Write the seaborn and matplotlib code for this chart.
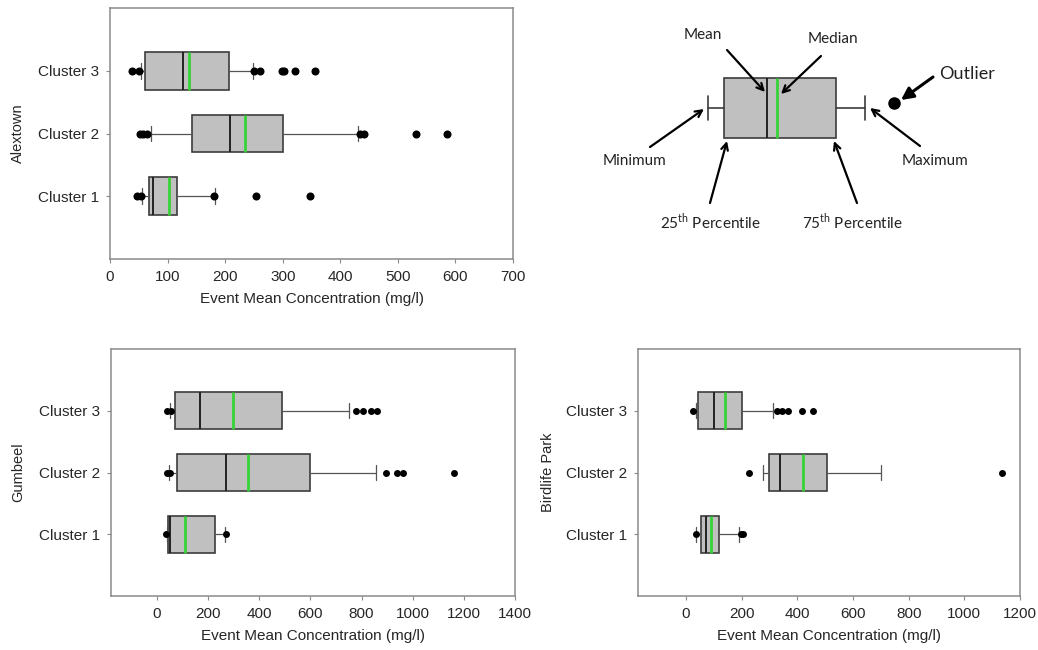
import numpy as np
import pandas as pd
import matplotlib
matplotlib.use("Agg")
import matplotlib.pyplot as plt
import seaborn as sns

# ---------------- data (mg/l) ----------------
clusters = ["Cluster 3", "Cluster 2", "Cluster 1"]
xlabel = "Event Mean Concentration (mg/l)"

# Alextown
alex_whislo = [54, 72, 56]
alex_q1 = [60, 143, 68]
alex_mean = [126, 208, 75]      # black line
alex_median = [138, 234, 102]   # green line
alex_q3 = [206, 301, 116]
alex_whishi = [248, 431, 182]
alex_fliers = [[38, 50, 250, 261, 298, 302, 321, 356],
               [52, 58, 65, 435, 441, 531, 585],
               [47, 53, 180, 253, 347]]

# Gumbeel
gum_whislo = [50, 48, 40]
gum_q1 = [70, 79, 44]
gum_mean = [167, 270, 50]
gum_median = [296, 357, 111]
gum_q3 = [490, 600, 227]
gum_whishi = [752, 858, 266]
gum_fliers = [[38, 55, 780, 806, 835, 862],
              [38, 52, 897, 940, 962, 1162],
              [35, 268]]

# Birdlife Park
bird_whislo = [36, 278, 38]
bird_q1 = [44, 300, 53]
bird_mean = [102, 338, 72]
bird_median = [140, 420, 89]
bird_q3 = [200, 508, 119]
bird_whishi = [314, 701, 191]
bird_fliers = [[26, 326, 344, 368, 416, 456],
               [225, 1136],
               [35, 197, 206]]

# key diagram (drawn in its own pixel-like units)
key_stats = dict(whislo=708, q1=724, mean=767, med=777, q3=836, whishi=865)
key_outlier = (894, 103)
key_labels = [  # text, text position, arrow tail, arrow head
    ("Mean", (703, 35), (727, 50), (765, 92)),
    ("Median", (833, 39), (821, 56), (781, 94)),
    ("Outlier", (967, 74), (933, 77), (901, 100)),
    ("Minimum", (635, 161), (650, 147), (704, 109)),
    ("Maximum", (935, 161), (920, 146), (870, 108)),
    ("25$^{\\mathregular{th}}$ Percentile", (710, 222), (710, 203), (727, 141)),
    ("75$^{\\mathregular{th}}$ Percentile", (852, 222), (857, 203), (834, 141)),
]

# ---------------- style ----------------
sns.set_style("ticks")
plt.rcParams['font.family'] = ['Liberation Sans', 'DejaVu Sans']

BOX_FACE = "#c0c0c0"
BOX_EDGE = "#3c3c3c"
GREEN = "#36d336"
SPINE = "#8a8a8a"

W, H = 1038, 650
fig = plt.figure(figsize=(W / 100, H / 100), dpi=100)


def px_axes(left, top, right, bottom):
    return fig.add_axes([left / W, (H - bottom) / H, (right - left) / W, (bottom - top) / H])


def make_stats(whislo, q1, mean, med, q3, whishi):
    out = []
    for i in range(len(clusters)):
        out.append(dict(whislo=whislo[i], q1=q1[i], mean=mean[i], med=med[i],
                        q3=q3[i], whishi=whishi[i], fliers=[]))
    return out


def draw_panel(ax, stats, fliers, site, xlim, xticks, msize, ylab_x):
    fl = pd.DataFrame({
        "cluster": [c for c, f in zip(clusters, fliers) for _ in f],
        "value": [v for f in fliers for v in f],
    })
    sns.stripplot(data=fl, x="value", y="cluster", order=clusters, jitter=False,
                  color="black", size=msize, linewidth=0, ax=ax, zorder=3)
    ax.bxp(stats, positions=range(len(clusters)), widths=0.6, capwidths=0.25,
           orientation="horizontal", patch_artist=True, showmeans=True,
           meanline=True, showfliers=False,
           boxprops=dict(facecolor=BOX_FACE, edgecolor=BOX_EDGE, linewidth=1.2),
           whiskerprops=dict(color="#555555", linewidth=0.9),
           capprops=dict(color="#555555", linewidth=0.9),
           medianprops=dict(color=GREEN, linewidth=2.0),
           meanprops=dict(color="#222222", linewidth=1.4, linestyle="-"),
           manage_ticks=False)
    ax.set_yticks(range(len(clusters)))
    ax.set_yticklabels(clusters)
    ax.set_ylim(3, -1)
    ax.set_xlim(*xlim)
    ax.set_xticks(xticks)
    ax.set_xlabel(xlabel, fontsize=11, labelpad=6)
    ax.set_ylabel(site, fontsize=10.5)
    ax.yaxis.set_label_coords(ylab_x, 0.5)
    for s in ax.spines.values():
        s.set_visible(True)
        s.set_color(SPINE)
        s.set_linewidth(1.1)
    ax.tick_params(axis="both", length=3, width=0.8, color=SPINE, pad=5, labelsize=11)


# top-left: Alextown
ax1 = px_axes(110, 8, 513, 259)
draw_panel(ax1, make_stats(alex_whislo, alex_q1, alex_mean, alex_median, alex_q3, alex_whishi),
           alex_fliers, "Alextown", (0, 700), np.arange(0, 701, 100), 5.8, (25 - 110) / 403)

# bottom-left: Gumbeel
ax2 = px_axes(111, 349, 515, 596)
draw_panel(ax2, make_stats(gum_whislo, gum_q1, gum_mean, gum_median, gum_q3, gum_whishi),
           gum_fliers, "Gumbeel", (-180, 1400), np.arange(0, 1401, 200), 5.0, (25 - 111) / 404)

# bottom-right: Birdlife Park
ax3 = px_axes(638, 349, 1020, 596)
draw_panel(ax3, make_stats(bird_whislo, bird_q1, bird_mean, bird_median, bird_q3, bird_whishi),
           bird_fliers, "Birdlife Park", (-172, 1200), np.arange(0, 1201, 200), 5.0, (555 - 638) / 382)

# top-right: key diagram
axk = px_axes(590, 0, 1038, 250)
axk.set_xlim(590, 1038)
axk.set_ylim(250, 0)
axk.axis("off")
axk.bxp([dict(key_stats, fliers=[])], positions=[108], widths=60, capwidths=24,
        orientation="horizontal", patch_artist=True, showmeans=True, meanline=True,
        showfliers=False, manage_ticks=False,
        boxprops=dict(facecolor=BOX_FACE, edgecolor=BOX_EDGE, linewidth=1.2),
        whiskerprops=dict(color=BOX_EDGE, linewidth=1.2),
        capprops=dict(color=BOX_EDGE, linewidth=1.2),
        medianprops=dict(color=GREEN, linewidth=2.0),
        meanprops=dict(color="#222222", linewidth=1.4, linestyle="-"))
axk.plot(*key_outlier, "o", color="black", markersize=8)
for text, tpos, tail, head in key_labels:
    big = text == "Outlier"
    axk.annotate("", xy=head, xytext=tail,
                 arrowprops=dict(arrowstyle="-|>" if big else "->",
                                 color="black", lw=2.2 if big else 1.6,
                                 mutation_scale=18 if big else 12,
                                 shrinkA=0, shrinkB=0))
    axk.text(tpos[0], tpos[1], text, ha="center", va="center",
             fontsize=13 if big else 11, family=["Lato", "DejaVu Sans"], color="#222222")

fig.savefig("out.png", dpi=100)
